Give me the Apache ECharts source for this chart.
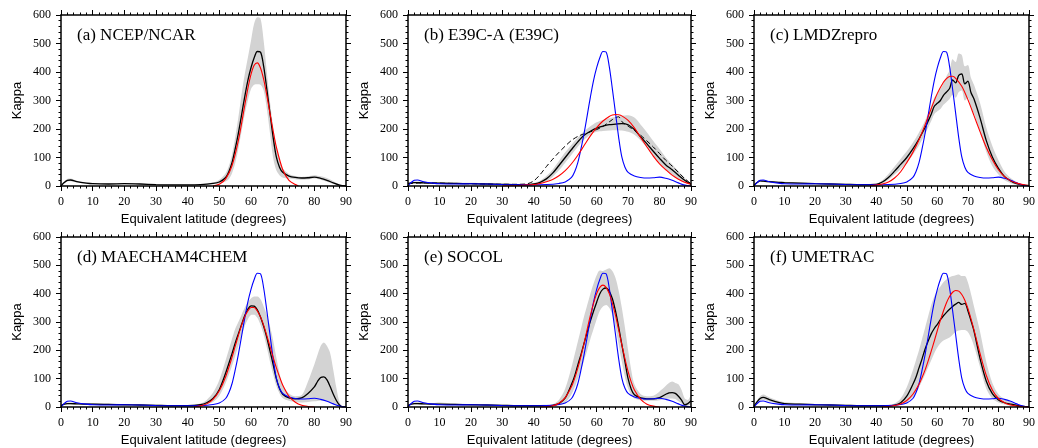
<!DOCTYPE html>
<html>
<head>
<meta charset="utf-8">
<title>Kappa vs equivalent latitude</title>
<script src="https://cdn.jsdelivr.net/npm/echarts@6/dist/echarts.min.js"></script>
<style>
	html, body { margin: 0; padding: 0; background: #ffffff; }
	#chart { width: 1038px; height: 448px; }
</style>
</head>
<body>
<div id="chart"></div>
<script>
	// tick labels
	var latTicks = [0, 10, 20, 30, 40, 50, 60, 70, 80, 90];
	var kappaTicks = [0, 100, 200, 300, 400, 500, 600];
	var panelNames = ['(a) NCEP/NCAR', '(b) E39C-A (E39C)', '(c) LMDZrepro', '(d) MAECHAM4CHEM', '(e) SOCOL', '(f) UMETRAC'];

	// NCEP/NCAR curve: black in (a), blue in (b)-(f)
	var ncep = [[0,0],[1,12],[2,20],[3,21],[5,15],[8,10],[10,8],[15,7],[20,8],[25,7],[30,5],[35,4],[40,4],[44,5],[48,9],[50,14],[52,30],[53,50],[54,82],[55,130],[56,185],[57,248],[58,312],[59,370],[60,415],[61,450],[62,472],[63,470],[64,420],[65,340],[66,255],[67,170],[68,102],[69,66],[70,48],[72,35],[74,30],[76,28],[78,29],[80,31],[82,27],[84,20],[86,11],[88,3],[90,0]];

	// grey range: [lat, low, high]
	var bandA = [[0,0,2],[1,9,15],[2,16,25],[3,17,26],[5,12,18],[8,8,12],[10,6,10],[15,5,9],[20,6,10],[25,5,9],[30,4,6],[35,3,5],[40,3,5],[44,4,6],[48,6,12],[50,9,22],[52,16,45],[53,25,70],[54,45,110],[55,80,170],[56,130,240],[57,190,320],[58,250,390],[59,300,450],[60,340,510],[61,355,570],[62,357,592],[63,355,588],[64,335,510],[65,270,400],[66,185,295],[67,98,208],[68,55,140],[69,38,90],[70,30,62],[72,26,42],[74,24,35],[76,22,32],[78,23,34],[80,26,38],[82,22,34],[84,15,28],[86,7,17],[88,1,5],[90,0,0]];
	var fitA = [[48,0],[50,6],[52,25],[54,71],[56,159],[58,281],[59,342],[60,392],[61,424],[62,432],[63,414],[64,374],[65,318],[66,255],[67,193],[68,137],[70,58],[72,20],[74,5],[75,0]];

	var meanB = [[0,8],[1,11],[2,12],[3,12],[5,11],[8,10],[10,10],[15,9],[20,8],[25,7],[30,6],[35,5],[38,5],[40,7],[42,13],[44,25],[46,45],[48,72],[50,100],[52,128],[54,155],[56,178],[58,192],[60,203],[62,210],[64,215],[66,217],[68,219],[70,215],[72,198],[74,172],[76,148],[78,122],[80,97],[82,74],[84,57],[86,38],[88,20],[90,6]];
	var dashB = [[0,8],[5,11],[10,10],[20,8],[30,6],[35,6],[38,8],[40,18],[42,40],[44,68],[46,94],[48,118],[50,140],[52,160],[54,174],[56,183],[58,190],[60,198],[62,209],[64,225],[65,233],[66,240],[67,243],[68,226],[70,210],[72,195],[74,178],[76,158],[78,137],[80,114],[82,90],[84,70],[86,48],[88,26],[90,8]];
	var bandB = [[0,5,11],[1,8,15],[2,9,16],[3,9,16],[5,8,15],[8,7,14],[10,7,14],[15,6,12],[20,5,11],[25,5,10],[30,4,8],[35,3,7],[38,3,7],[40,4,10],[42,7,18],[44,16,35],[46,32,58],[48,55,88],[50,82,118],[52,110,145],[54,138,170],[56,162,192],[58,180,210],[60,190,224],[62,193,232],[64,195,238],[66,196,242],[68,195,246],[70,190,248],[72,180,240],[74,160,215],[76,135,188],[78,105,158],[80,80,130],[82,58,100],[84,40,76],[86,24,52],[88,11,28],[90,3,10]];
	var fitB = [[30,0],[35,2],[40,5],[42,9],[44,15],[46,23],[48,36],[50,54],[52,78],[54,108],[56,142],[58,176],[60,205],[62,228],[64,244],[65,249],[66,251],[67,250],[68,246],[70,230],[72,204],[74,170],[76,137],[78,105],[80,78],[82,57],[84,38],[86,24],[88,13],[90,6]];

	var meanC = [[0,3],[1,12],[2,18],[3,17],[5,15],[8,13],[10,12],[15,10],[20,8],[25,7],[30,6],[35,5],[40,6],[42,14],[44,30],[46,52],[48,76],[50,100],[52,130],[54,165],[55,185],[56,205],[57,228],[58,252],[59,280],[60,290],[61,300],[62,318],[63,330],[64,342],[65,372],[66,362],[67,388],[68,393],[69,358],[70,368],[71,328],[72,305],[74,238],[76,160],[78,102],[80,62],[82,33],[84,18],[86,8],[88,3],[90,1]];
	var bandC = [[0,1,5],[1,9,15],[2,15,21],[3,14,20],[5,12,18],[8,10,16],[10,9,15],[15,7,13],[20,6,10],[25,5,9],[30,4,8],[35,3,7],[40,4,9],[42,9,20],[44,22,42],[46,40,68],[48,60,95],[50,82,122],[52,110,152],[54,142,188],[55,162,208],[56,182,230],[57,205,255],[58,228,282],[59,252,310],[60,262,325],[61,270,340],[62,285,360],[63,295,385],[64,305,405],[65,320,445],[66,310,435],[67,330,465],[68,335,460],[69,300,420],[70,310,425],[71,275,380],[72,255,355],[74,190,290],[76,120,205],[78,70,140],[80,40,90],[82,20,50],[84,10,28],[86,4,14],[88,1,6],[90,0,2]];
	var fitC = [[38,1],[40,3],[42,7],[44,14],[46,28],[48,50],[50,82],[52,118],[54,162],[56,215],[58,272],[60,325],[62,364],[63,377],[64,384],[65,385],[66,378],[68,350],[70,303],[72,247],[74,190],[76,136],[78,92],[80,57],[82,33],[84,18],[86,10],[88,5],[90,2]];

	var meanD = [[0,5],[1,10],[2,12],[3,12],[5,11],[8,10],[10,10],[15,9],[20,8],[25,7],[30,6],[35,5],[40,5],[44,8],[46,15],[48,30],[50,62],[52,120],[54,188],[55,225],[56,258],[57,290],[58,322],[59,345],[60,357],[61,356],[62,343],[63,318],[64,285],[65,245],[66,198],[67,150],[68,100],[69,65],[70,45],[72,32],[74,29],[76,32],[78,48],[80,71],[81,90],[82,104],[83,106],[84,96],[85,72],[86,45],[87,22],[88,6],[89,0],[90,0]];
	var bandD = [[0,3,8],[1,7,13],[2,9,16],[3,9,16],[5,8,15],[8,7,14],[10,7,14],[15,6,12],[20,6,10],[25,5,9],[30,4,8],[35,3,7],[40,3,7],[44,5,12],[46,9,25],[48,18,50],[50,40,95],[52,85,165],[54,145,240],[55,180,275],[56,215,300],[57,250,325],[58,285,350],[59,310,370],[60,325,383],[61,326,390],[62,315,390],[63,290,380],[64,255,355],[65,210,325],[66,160,285],[67,115,235],[68,75,175],[69,48,120],[70,32,78],[72,22,48],[74,18,38],[76,16,42],[78,18,90],[80,20,150],[82,22,215],[83,22,228],[84,20,215],[85,16,190],[86,10,130],[87,5,65],[88,1,15],[89,0,3],[90,0,0]];
	var fitD = [[42,1],[44,4],[46,11],[48,27],[50,57],[52,107],[54,175],[55,214],[56,252],[57,288],[58,318],[59,339],[60,351],[61,351],[62,339],[63,318],[64,288],[65,252],[66,214],[67,175],[68,139],[69,107],[70,78],[72,38],[74,17],[76,6],[78,2],[80,0]];

	var meanE = [[0,5],[1,10],[2,12],[3,12],[5,11],[8,10],[10,10],[15,9],[20,8],[25,7],[30,6],[35,5],[40,5],[44,5],[46,6],[48,12],[50,32],[52,80],[53,110],[54,148],[55,185],[56,225],[57,265],[58,303],[59,338],[60,370],[61,400],[62,416],[63,420],[64,408],[65,382],[66,338],[67,282],[68,220],[69,160],[70,100],[71,63],[72,43],[74,32],[76,29],[78,29],[80,33],[82,45],[83,50],[84,51],[85,48],[86,38],[87,24],[88,8],[89,12],[90,22]];
	var bandE = [[0,2,8],[1,7,14],[2,9,16],[3,9,17],[5,8,15],[8,7,14],[10,7,16],[15,6,12],[20,6,10],[25,5,9],[30,4,8],[35,3,7],[40,3,7],[44,3,8],[46,4,10],[48,6,25],[50,15,65],[52,45,140],[53,70,185],[54,100,230],[55,130,275],[56,165,320],[57,200,360],[58,240,400],[59,275,435],[60,310,465],[61,340,482],[62,355,480],[63,360,485],[64,350,490],[65,325,480],[66,280,455],[67,220,410],[68,160,350],[69,105,280],[70,65,200],[71,42,130],[72,30,80],[74,24,45],[76,22,38],[78,22,40],[80,24,55],[82,28,75],[83,30,85],[84,30,90],[85,28,85],[86,20,80],[87,12,60],[88,3,30],[89,4,25],[90,10,45]];
	var fitE = [[42,0],[44,1],[46,4],[48,13],[50,33],[52,72],[53,101],[54,137],[55,179],[56,225],[57,275],[58,323],[59,366],[60,400],[61,422],[62,430],[63,422],[64,400],[65,366],[66,323],[67,272],[68,220],[69,170],[70,125],[71,88],[72,60],[74,27],[76,10],[78,3],[80,0]];

	var meanF = [[0,3],[1,18],[2,30],[3,34],[5,26],[8,16],[10,12],[15,10],[20,8],[25,7],[30,6],[35,5],[40,5],[44,5],[46,7],[48,15],[50,38],[52,80],[53,105],[54,138],[55,170],[56,205],[57,233],[58,258],[59,277],[60,292],[61,308],[62,322],[63,334],[64,345],[65,355],[66,363],[67,369],[68,362],[69,366],[70,340],[71,305],[72,268],[74,170],[76,92],[78,47],[80,25],[82,15],[84,10],[86,6],[88,2],[90,0]];
	var bandF = [[0,1,6],[1,12,24],[2,22,38],[3,26,44],[5,19,34],[8,11,22],[10,8,17],[15,7,14],[20,6,11],[25,5,9],[30,4,8],[35,3,7],[40,3,7],[44,3,8],[46,4,12],[48,7,30],[50,15,70],[52,35,130],[53,50,165],[54,70,200],[55,92,240],[56,115,280],[57,140,320],[58,165,360],[59,190,390],[60,210,410],[61,225,425],[62,235,440],[63,240,450],[64,245,458],[65,255,462],[66,265,465],[67,270,468],[68,272,462],[69,272,462],[70,265,440],[71,245,400],[72,215,355],[74,140,265],[76,65,160],[78,30,85],[80,16,45],[82,9,28],[84,5,18],[86,3,10],[88,1,4],[90,0,1]];
	var fitF = [[42,1],[44,2],[46,5],[48,11],[50,23],[52,45],[54,80],[55,104],[56,131],[57,163],[58,197],[59,233],[60,270],[61,306],[62,339],[63,368],[64,390],[65,405],[66,411],[67,409],[68,397],[69,377],[70,348],[71,312],[72,272],[74,188],[76,112],[78,60],[80,30],[82,15],[84,7],[86,3],[88,1],[90,0]];

	var panels = [
		{ band: bandA, mean: ncep, fit: fitA },
		{ band: bandB, mean: meanB, dash: dashB, fit: fitB, ref: ncep },
		{ band: bandC, mean: meanC, fit: fitC, ref: ncep },
		{ band: bandD, mean: meanD, fit: fitD, ref: ncep },
		{ band: bandE, mean: meanE, fit: fitE, ref: ncep },
		{ band: bandF, mean: meanF, fit: fitF, ref: ncep }
	];
	// grid boxes in px: left, top, width, height
	var boxes = [[61, 15, 285, 171], [408, 15, 283, 171], [754, 15, 282, 171],
		[61, 237, 285, 170], [408, 237, 283, 170], [754, 237, 282, 170]];

	var serif = 'Liberation Serif';
	var sans = 'Liberation Sans';

	function axisStyle(showLabels) {
		return {
			axisLine: { show: true, onZero: false, lineStyle: { color: '#000', width: 1.5 } },
			axisTick: { show: true, length: 5, lineStyle: { color: '#000', width: 1 } },
			minorTick: { show: true, splitNumber: 5, length: 2.5, lineStyle: { color: '#000', width: 1 } },
			splitLine: { show: false },
			axisLabel: { show: showLabels, color: '#000', fontFamily: serif, fontSize: 12, margin: 10 },
			z: 10
		};
	}

	function lineSeries(gi, data, color, width, z, extra) {
		var s = {
			type: 'line', xAxisIndex: gi * 2, yAxisIndex: gi * 2, data: data,
			symbol: 'none', smooth: 0.3, z: z, silent: true,
			lineStyle: { color: color, width: width }
		};
		for (var k in extra) s[k] = extra[k];
		return s;
	}

	var option = {
		animation: false,
		backgroundColor: '#ffffff',
		title: [], grid: [], xAxis: [], yAxis: [], series: []
	};

	panels.forEach(function (p, i) {
		var b = boxes[i];
		option.grid.push({ left: b[0], top: b[1], width: b[2], height: b[3], containLabel: false });
		option.title.push({
			text: panelNames[i], left: b[0] + 16, top: b[1] + 12, padding: 0,
			textStyle: { fontFamily: serif, fontSize: 17, fontWeight: 'normal', color: '#000' }
		});

		var xb = axisStyle(true);
		xb.type = 'value'; xb.gridIndex = i; xb.position = 'bottom';
		xb.min = latTicks[0]; xb.max = latTicks[latTicks.length - 1]; xb.interval = latTicks[1] - latTicks[0];
		xb.name = 'Equivalent latitude (degrees)'; xb.nameLocation = 'middle'; xb.nameGap = 27;
		xb.nameTextStyle = { fontFamily: sans, fontSize: 13, color: '#000' };
		var xt = axisStyle(false);
		xt.type = 'value'; xt.gridIndex = i; xt.position = 'top';
		xt.min = xb.min; xt.max = xb.max; xt.interval = xb.interval;
		option.xAxis.push(xb, xt);

		var yl = axisStyle(true);
		yl.type = 'value'; yl.gridIndex = i; yl.position = 'left';
		yl.min = kappaTicks[0]; yl.max = kappaTicks[kappaTicks.length - 1]; yl.interval = kappaTicks[1] - kappaTicks[0];
		yl.name = 'Kappa'; yl.nameLocation = 'middle'; yl.nameGap = 37;
		yl.nameTextStyle = { fontFamily: sans, fontSize: 13, color: '#000' };
		var yr = axisStyle(false);
		yr.type = 'value'; yr.gridIndex = i; yr.position = 'right';
		yr.min = yl.min; yr.max = yl.max; yr.interval = yl.interval;
		option.yAxis.push(yl, yr);

		// grey range: upper filled grey, lower filled white on top of it
		option.series.push(lineSeries(i, p.band.map(function (d) { return [d[0], d[2]]; }), '#d3d3d3', 0, 1, {
			areaStyle: { color: '#d3d3d3', opacity: 1 }, lineStyle: { width: 0, opacity: 0 }
		}));
		option.series.push(lineSeries(i, p.band.map(function (d) { return [d[0], d[1]]; }), '#ffffff', 0, 2, {
			areaStyle: { color: '#ffffff', opacity: 1 }, lineStyle: { width: 0, opacity: 0 }
		}));

		if (p.dash) {
			option.series.push(lineSeries(i, p.dash, '#000', 1, 3, {
				lineStyle: { color: '#000', width: 1, type: [5, 3] }
			}));
		}
		option.series.push(lineSeries(i, p.mean, '#000', 1.3, 4));
		if (p.ref) option.series.push(lineSeries(i, p.ref, '#0000ff', 1.1, 5));
		option.series.push(lineSeries(i, p.fit, '#ff0000', 1.1, 6));
	});

	var chart = echarts.init(document.getElementById('chart'), null, { renderer: 'canvas' });
	chart.setOption(option);
</script>
</body>
</html>
